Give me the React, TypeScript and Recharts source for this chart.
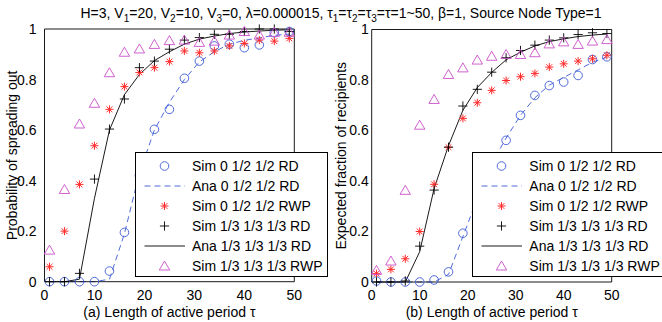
import React from 'react';
import { ComposedChart, Line, XAxis, YAxis, Legend } from 'recharts';

// ---------- data ----------
const tau = [1, 4, 7, 10, 13, 16, 19, 22, 25, 28, 31, 34, 37, 40, 43, 46, 49];
const xTicks = [0, 10, 20, 30, 40, 50];
const yTicks = [0, 0.2, 0.4, 0.6, 0.8, 1];

// (a) Probability of spreading out
const aSimRD = [0, 0, 0, 0, 0.042, 0.195, 0.42, 0.603, 0.682, 0.805, 0.873, 0.933, 0.94, 0.926, 0.937, 0.985, 0.99];
const aAnaRD = [0, 0, 0, 0, 0.01, 0.19, 0.43, 0.6, 0.71, 0.8, 0.87, 0.91, 0.94, 0.955, 0.965, 0.975, 0.98];
const aSimRWP = [0.059, 0.2, 0.385, 0.538, 0.682, 0.772, 0.828, 0.847, 0.871, 0.913, 0.906, 0.913, 0.933, 0.943, 0.956, 0.952, 0.963];
const aSim3RD = [0, 0, 0.033, 0.406, 0.604, 0.723, 0.847, 0.873, 0.92, 0.956, 0.966, 0.979, 0.979, 0.99, 1.0, 1.0, 0.99];
const aAna3RD = [0, 0, 0.01, 0.33, 0.6, 0.74, 0.82, 0.875, 0.91, 0.94, 0.96, 0.972, 0.982, 0.988, 0.992, 0.995, 0.997];
const aSim3RWP = [0.125, 0.365, 0.624, 0.706, 0.827, 0.908, 0.921, 0.939, 0.954, 0.956, 0.947, 0.952, 0.976, 0.99, 0.976, 0.987, 0.987];

// (b) Expected fraction of recipients
const bSimRD = [0.004, 0, 0, 0, 0.008, 0.04, 0.193, 0.33, 0.47, 0.561, 0.66, 0.739, 0.778, 0.792, 0.818, 0.881, 0.892];
const bAnaRD = [0, 0, 0, 0, 0, 0.03, 0.18, 0.33, 0.47, 0.57, 0.66, 0.73, 0.78, 0.81, 0.84, 0.87, 0.89];
const bSimRWP = [0.033, 0.05, 0.092, 0.2, 0.387, 0.534, 0.648, 0.71, 0.759, 0.798, 0.813, 0.826, 0.851, 0.864, 0.875, 0.884, 0.898];
const bSim3RD = [0, 0, 0.004, 0.142, 0.364, 0.534, 0.697, 0.763, 0.831, 0.888, 0.917, 0.938, 0.958, 0.967, 0.98, 0.987, 0.984];
const bAna3RD = [0, 0, 0, 0.12, 0.37, 0.54, 0.68, 0.77, 0.83, 0.88, 0.91, 0.935, 0.952, 0.963, 0.972, 0.978, 0.982];
const bSim3RWP = [0.046, 0.083, 0.363, 0.621, 0.723, 0.822, 0.848, 0.879, 0.894, 0.901, 0.901, 0.908, 0.943, 0.951, 0.941, 0.954, 0.96];

const legendLabels = [
  'Sim 0 1/2 1/2 RD',
  'Ana 0 1/2 1/2 RD',
  'Sim 0 1/2 1/2 RWP',
  'Sim 1/3 1/3 1/3 RD',
  'Ana 1/3 1/3 1/3 RD',
  'Sim 1/3 1/3 1/3 RWP',
];
const legendKinds = ['circle', 'dash', 'star', 'plus', 'solid', 'tri'];

// ---------- styles ----------
const FONT = '"Liberation Sans", Arial, Helvetica, sans-serif';
const BLUE = '#3d5ad6';
const RED = '#ff2b2b';
const MAG = '#c94fc9';
const BLACK = '#000000';

const buildRows = (s1: number[], a1: number[], s2: number[], s3: number[], a3: number[], s4: number[]) =>
  tau.map((t, i) => ({ tau: t, simRD: s1[i], anaRD: a1[i], simRWP: s2[i], sim3RD: s3[i], ana3RD: a3[i], sim3RWP: s4[i] }));

const rowsA = buildRows(aSimRD, aAnaRD, aSimRWP, aSim3RD, aAna3RD, aSim3RWP);
const rowsB = buildRows(bSimRD, bAnaRD, bSimRWP, bSim3RD, bAna3RD, bSim3RWP);

// ---------- markers ----------
function drawMarker(kind: string, cx: number, cy: number, key?: any) {
  if (kind === 'circle') {
    return <circle key={key} cx={cx} cy={cy} r={4.3} fill="none" stroke={BLUE} strokeWidth={0.9} />;
  }
  if (kind === 'star') {
    const r = 4;
    const d = r * 0.72;
    return (
      <g key={key} stroke={RED} strokeWidth={1}>
        <line x1={cx - r} y1={cy} x2={cx + r} y2={cy} />
        <line x1={cx} y1={cy - r} x2={cx} y2={cy + r} />
        <line x1={cx - d} y1={cy - d} x2={cx + d} y2={cy + d} />
        <line x1={cx - d} y1={cy + d} x2={cx + d} y2={cy - d} />
      </g>
    );
  }
  if (kind === 'plus') {
    const r = 4.6;
    return (
      <g key={key} stroke={BLACK} strokeWidth={0.9}>
        <line x1={cx - r} y1={cy} x2={cx + r} y2={cy} />
        <line x1={cx} y1={cy - r} x2={cx} y2={cy + r} />
      </g>
    );
  }
  if (kind === 'tri') {
    return (
      <polygon
        key={key}
        points={`${cx},${cy - 5} ${cx - 5.2},${cy + 4} ${cx + 5.2},${cy + 4}`}
        fill="none"
        stroke={MAG}
        strokeWidth={0.9}
      />
    );
  }
  return <g key={key} />;
}

const makeDot = (kind: string) => (p: any) => {
  if (p == null || p.cx == null || p.cy == null || p.value == null) return <g key={p && p.key} />;
  return drawMarker(kind, p.cx, p.cy, p.key);
};

const CircleDot = makeDot('circle');
const StarDot = makeDot('star');
const PlusDot = makeDot('plus');
const TriDot = makeDot('tri');

// ---------- legend ----------
function LegendBox() {
  return (
    <div
      style={{
        width: 193,
        height: 125,
        boxSizing: 'border-box',
        border: '1px solid #000',
        background: '#fff',
        position: 'relative',
        fontFamily: FONT,
        fontSize: 14,
        color: '#000',
      }}
    >
      {legendLabels.map((lab, i) => {
        const kind = legendKinds[i];
        return (
          <div
            key={lab}
            style={{
              position: 'absolute',
              left: 0,
              top: 3 + i * 20,
              height: 20,
              display: 'flex',
              alignItems: 'center',
              whiteSpace: 'nowrap',
            }}
          >
            <svg width={56} height={20} style={{ display: 'block' }}>
              {kind === 'dash' && (
                <line x1={8.5} y1={10} x2={49} y2={10} stroke={BLUE} strokeWidth={0.9} strokeDasharray="6 4" />
              )}
              {kind === 'solid' && <line x1={8.5} y1={10} x2={49} y2={10} stroke={BLACK} strokeWidth={0.9} />}
              {kind !== 'dash' && kind !== 'solid' && drawMarker(kind, 28.5, 10)}
            </svg>
            <span style={{ lineHeight: '20px' }}>{lab}</span>
          </div>
        );
      })}
    </div>
  );
}

// ---------- axis labels ----------
function YLab(props: any) {
  const { viewBox, text, gap } = props;
  const x = viewBox.x + viewBox.width - gap;
  const y = viewBox.y + viewBox.height / 2;
  return (
    <text
      x={x}
      y={y}
      transform={`rotate(-90 ${x} ${y})`}
      textAnchor="middle"
      fontFamily={FONT}
      fontSize={14}
      fill="#000"
    >
      {text}
    </text>
  );
}

function XLab(props: any) {
  const { viewBox, text } = props;
  const x = viewBox.x + viewBox.width / 2;
  const y = 316.5;
  return (
    <text x={x} y={y} textAnchor="middle" fontFamily={FONT} fontSize={14} fill="#000">
      {text}
    </text>
  );
}

// ---------- panel ----------
type PanelProps = {
  rows: any[];
  left: number;
  width: number;
  margin: { top: number; right: number; bottom: number; left: number };
  yLabel: string;
  xLabel: string;
  yGap: number;
  yTickMargin: number;
  legendLeft: number;
};

const tickStyle = { fill: '#000', fontSize: 14, fontFamily: FONT };

function Panel(p: PanelProps) {
  return (
    <div style={{ position: 'absolute', left: p.left, top: 0 }}>
      <ComposedChart width={p.width} height={322} data={p.rows} margin={p.margin}>
        <XAxis
          dataKey="tau"
          type="number"
          domain={[0, 50]}
          ticks={xTicks}
          interval={0}
          height={1}
          tickLine={false}
          tickSize={0}
          tickMargin={8}
          axisLine={{ stroke: '#000', strokeWidth: 0.9 }}
          tick={tickStyle}
          label={<XLab text={p.xLabel} />}
        />
        <XAxis
          xAxisId="bm"
          type="number"
          domain={[0, 50]}
          ticks={xTicks}
          interval={0}
          orientation="bottom"
          mirror
          height={1}
          tick={false}
          tickSize={4}
          tickLine={{ stroke: '#000', strokeWidth: 0.8 }}
          axisLine={false}
          allowDataOverflow
        />
        <XAxis
          xAxisId="tm"
          type="number"
          domain={[0, 50]}
          ticks={xTicks}
          interval={0}
          orientation="top"
          mirror
          height={1}
          tick={false}
          tickSize={4}
          tickLine={{ stroke: '#000', strokeWidth: 0.8 }}
          axisLine={{ stroke: '#000', strokeWidth: 0.9 }}
          allowDataOverflow
        />
        <YAxis
          type="number"
          domain={[0, 1]}
          ticks={yTicks}
          interval={0}
          width={1}
          tickLine={false}
          tickSize={0}
          tickMargin={p.yTickMargin}
          axisLine={{ stroke: '#000', strokeWidth: 0.9 }}
          tick={tickStyle}
          label={<YLab text={p.yLabel} gap={p.yGap} />}
        />
        <YAxis
          yAxisId="lm"
          type="number"
          domain={[0, 1]}
          ticks={yTicks}
          interval={0}
          orientation="left"
          mirror
          width={1}
          tick={false}
          tickSize={4}
          tickLine={{ stroke: '#000', strokeWidth: 0.8 }}
          axisLine={false}
          allowDataOverflow
        />
        <YAxis
          yAxisId="rm"
          type="number"
          domain={[0, 1]}
          ticks={yTicks}
          interval={0}
          orientation="right"
          mirror
          width={1}
          tick={false}
          tickSize={4}
          tickLine={{ stroke: '#000', strokeWidth: 0.8 }}
          axisLine={{ stroke: '#000', strokeWidth: 0.9 }}
          allowDataOverflow
        />

        <Line dataKey="simRD" stroke="none" dot={CircleDot} activeDot={false} isAnimationActive={false} legendType="none" />
        <Line
          dataKey="anaRD"
          type="linear"
          stroke={BLUE}
          strokeWidth={0.9}
          strokeDasharray="6 4"
          dot={false}
          activeDot={false}
          isAnimationActive={false}
          legendType="none"
        />
        <Line dataKey="simRWP" stroke="none" dot={StarDot} activeDot={false} isAnimationActive={false} legendType="none" />
        <Line dataKey="sim3RD" stroke="none" dot={PlusDot} activeDot={false} isAnimationActive={false} legendType="none" />
        <Line
          dataKey="ana3RD"
          type="linear"
          stroke={BLACK}
          strokeWidth={0.9}
          dot={false}
          activeDot={false}
          isAnimationActive={false}
          legendType="none"
        />
        <Line dataKey="sim3RWP" stroke="none" dot={TriDot} activeDot={false} isAnimationActive={false} legendType="none" />

        <Legend
          layout="vertical"
          align="center"
          verticalAlign="middle"
          content={() => <LegendBox />}
          wrapperStyle={{ left: p.legendLeft, top: 152, width: 193, height: 125 }}
        />
      </ComposedChart>
    </div>
  );
}

function Title() {
  return (
    <svg width={662} height={30} style={{ position: 'absolute', left: 0, top: 0, pointerEvents: 'none' }}>
      <text x={341} y={18} textAnchor="middle" fontFamily={FONT} fontSize={14} fill="#000">
        <tspan>H=3, V</tspan>
        <tspan dy={4} fontSize={10}>1</tspan>
        <tspan dy={-4}>=20, V</tspan>
        <tspan dy={4} fontSize={10}>2</tspan>
        <tspan dy={-4}>=10, V</tspan>
        <tspan dy={4} fontSize={10}>3</tspan>
        <tspan dy={-4}>=0, λ=0.000015, τ</tspan>
        <tspan dy={4} fontSize={10}>1</tspan>
        <tspan dy={-4}>=τ</tspan>
        <tspan dy={4} fontSize={10}>2</tspan>
        <tspan dy={-4}>=τ</tspan>
        <tspan dy={4} fontSize={10}>3</tspan>
        <tspan dy={-4}>=τ=1~50, β=1, Source Node Type=1</tspan>
      </text>
    </svg>
  );
}

export default function App() {
  return (
    <div
      style={{
        position: 'absolute',
        left: 0,
        top: 0,
        width: 662,
        height: 322,
        overflow: 'hidden',
        background: '#fff',
      }}
    >
      <Panel
        rows={rowsA}
        left={0}
        width={336}
        margin={{ top: 29, left: 43.5, right: 41.7, bottom: 39.3 }}
        yLabel="Probability of spreading out"
        xLabel="(a) Length of active period τ"
        yGap={27}
        yTickMargin={8}
        legendLeft={135}
      />
      <Panel
        rows={rowsB}
        left={326}
        width={336}
        margin={{ top: 29.5, left: 44.7, right: 50.3, bottom: 39 }}
        yLabel="Expected fraction of recipients"
        xLabel="(b) Length of active period τ"
        yGap={25.5}
        yTickMargin={3}
        legendLeft={146.3}
      />
      <Title />
    </div>
  );
}
